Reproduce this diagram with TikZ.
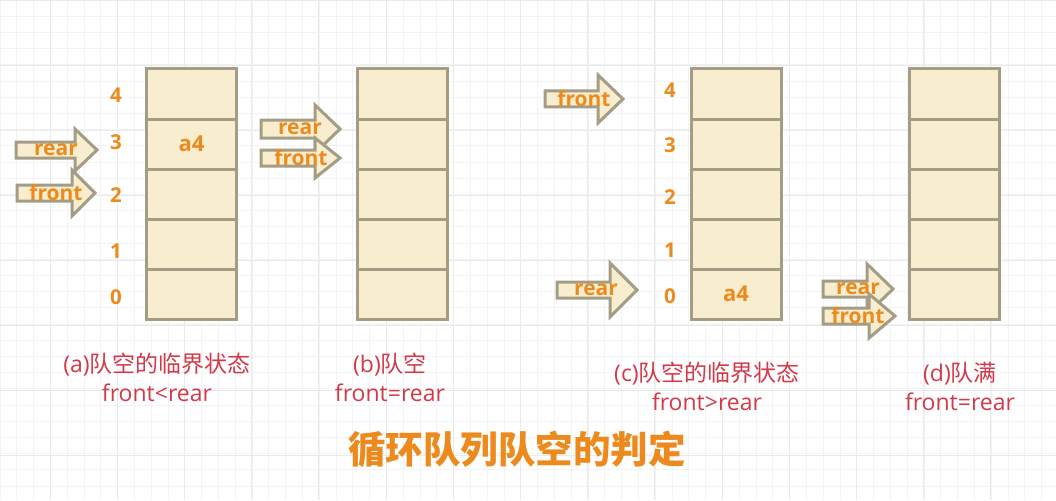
\documentclass[tikz,border=0pt]{standalone}
\usepackage{fontspec}
\setmainfont{Open Sans}
\newfontfamily\cjkfont{Noto Sans CJK SC}
\definecolor{qorange}{HTML}{EC8A1D}
\definecolor{capred}{HTML}{D23A4A}
\definecolor{cellline}{HTML}{A29D84}
\definecolor{cellfill}{HTML}{F8EECF}
\definecolor{gridminor}{HTML}{F3F3F3}
\definecolor{gridmajor}{HTML}{EAEAEA}
\tikzset{
  cell/.style={draw=cellline, fill=cellfill, line width=3pt, minimum width=90pt,
    minimum height=50pt, inner sep=0pt, outer sep=0pt},
  celltext/.style={text=qorange, inner sep=0pt, font=\bfseries\fontsize{22}{26}\selectfont},
  idx/.style={text=qorange, inner sep=0pt, font=\bfseries\fontsize{20.5}{24}\selectfont},
  captext/.style={text=capred, inner sep=0pt, font=\fontsize{23}{26}\selectfont},
  ptr/.style={draw=cellline, fill=cellfill, line width=3pt, line join=miter},
  ptrlabel/.style={text=qorange, inner sep=0pt, font=\bfseries\fontsize{21}{24}\selectfont},
  titlestyle/.style={text=qorange, inner sep=0pt, font=\cjkfont\bfseries\fontsize{37.5}{40}\selectfont}
}
\newcommand\zh[1]{{\cjkfont #1}}
% name, tail x, head x, tip x, y, shaft half, head half, label, label x
\newcommand\ptrarrow[9]{%
  \draw[ptr] ({#2},{#5-#6}) -- ({#3},{#5-#6}) -- ({#3},{#5-#7}) -- ({#4},{#5})
    -- ({#3},{#5+#7}) -- ({#3},{#5+#6}) -- ({#2},{#5+#6}) -- cycle;
  \node[ptrlabel] (#1) at ({#9},{#5}) {#8};}
\newcommand\qstack[2]{%
  \foreach \i in {0,...,4} {
    \node[cell] (#1\i) at ({#2},{294-50*\i}) {};
  }}
\begin{document}
\begin{tikzpicture}[x=1pt,y=-1pt]
\useasboundingbox (0,0) rectangle (1056,500);
\fill[white] (0,0) rectangle (1056,500);
\foreach \k in {0,...,63} {
  \draw[gridminor, line width=0.8pt] ({16.8*\k},0) -- ({16.8*\k},500);
}
\foreach \k in {0,...,30} {
  \draw[gridminor, line width=0.8pt] (0,{16.2*\k}) -- (1056,{16.2*\k});
}
\foreach \k in {0,...,15} {
  \draw[gridmajor, line width=0.8pt] ({50+67.2*(\k-1)},0) -- ({50+67.2*(\k-1)},500);
}
\foreach \k in {0,...,8} {
  \draw[gridmajor, line width=0.8pt] (0,{65*\k}) -- (1056,{65*\k});
}

% stacks
\qstack{a}{191.5}
\qstack{b}{402}
\qstack{c}{736}
\qstack{d}{954}
\node[celltext] (ta) at (a3) {a4};
\node[celltext] (tc) at (c0) {a4};

% indices
\node[idx] (na4) at (116,95) {4};
\node[idx] (na3) at (116,142) {3};
\node[idx] (na2) at (116,195) {2};
\node[idx] (na1) at (116,251) {1};
\node[idx] (na0) at (116,297) {0};
\node[idx] (nc4) at (670,90) {4};
\node[idx] (nc3) at (670,145) {3};
\node[idx] (nc2) at (670,197) {2};
\node[idx] (nc1) at (670,250) {1};
\node[idx] (nc0) at (670,296) {0};

% pointers
\ptrarrow{ar}{16}{75}{97}{150}{8}{21}{rear}{56}
\ptrarrow{af}{17}{72}{95}{193}{8}{23}{front}{56}
\ptrarrow{br}{261}{315}{340}{129}{9}{24}{rear}{300}
\ptrarrow{bf}{261}{315}{340}{158}{8}{20}{front}{301}
\ptrarrow{cf}{545}{598}{623}{99}{8}{24}{front}{584}
\ptrarrow{cr}{557}{610}{637}{290}{8}{27}{rear}{596}
\ptrarrow{dr}{823}{867}{893}{289}{8}{25}{rear}{858}
\ptrarrow{df}{823}{869}{895}{316}{8}{22}{front}{858}

% captions
\node[captext] (capa1) at (157,365) {(a)\zh{队空的临界状态}};
\node[captext] (capa2) at (157,393) {front<rear};
\node[captext] (capb1) at (390,365) {(b)\zh{队空}};
\node[captext] (capb2) at (390,393) {front=rear};
\node[captext] (capc1) at (707,374) {(c)\zh{队空的临界状态}};
\node[captext] (capc2) at (707,402) {front>rear};
\node[captext] (capd1) at (960,374) {(d)\zh{队满}};
\node[captext] (capd2) at (960,402) {front=rear};

\node[titlestyle] (title) at (517,449) {循环队列队空的判定};
\end{tikzpicture}
\end{document}
